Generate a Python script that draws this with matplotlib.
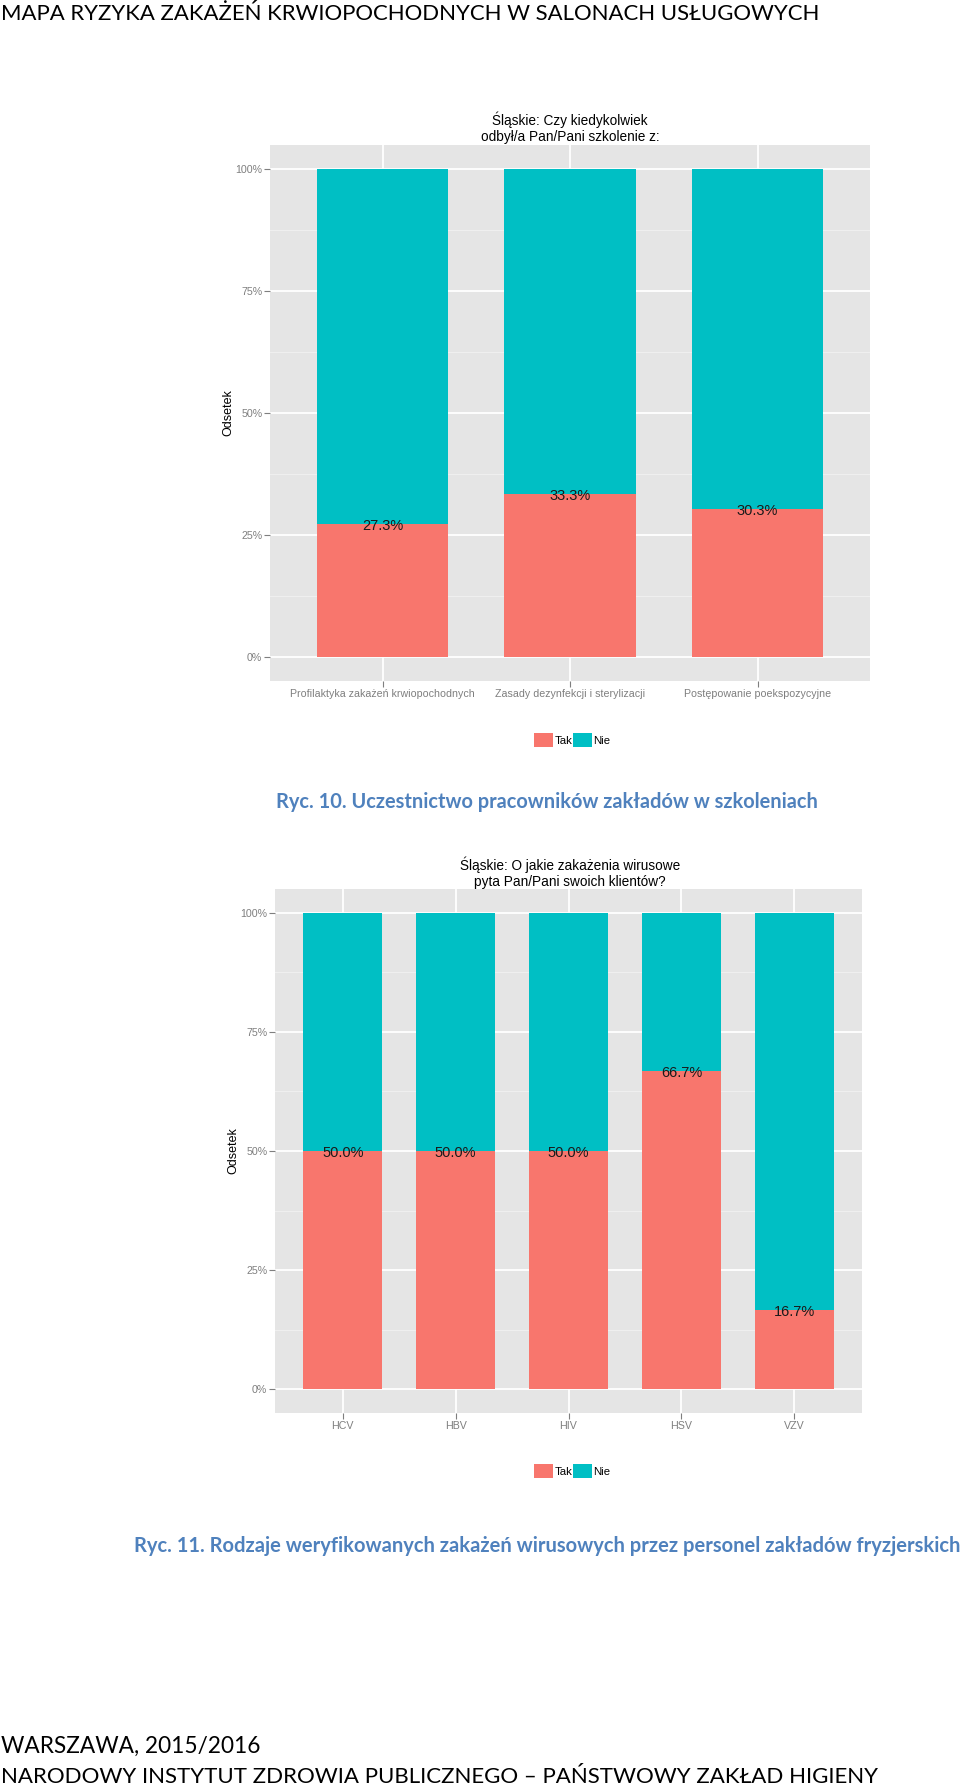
import numpy as np
import matplotlib.pyplot as plt
from matplotlib.patches import Patch

# canvas in pixels
W, H = 960, 1789

header = 'MAPA RYZYKA ZAKAŻEŃ KRWIOPOCHODNYCH W SALONACH USŁUGOWYCH'
caption1 = 'Ryc. 10. Uczestnictwo pracowników zakładów w szkoleniach'
caption2 = 'Ryc. 11. Rodzaje weryfikowanych zakażeń wirusowych przez personel zakładów fryzjerskich'
footer1 = 'WARSZAWA, 2015/2016'
footer2 = 'NARODOWY INSTYTUT ZDROWIA PUBLICZNEGO – PAŃSTWOWY ZAKŁAD HIGIENY'

title1 = 'Śląskie: Czy kiedykolwiek\nodbył/a Pan/Pani szkolenie z:'
train_cats = ['Profilaktyka zakażeń krwiopochodnych',
              'Zasady dezynfekcji i sterylizacji',
              'Postępowanie poekspozycyjne']
train_tak = [27.3, 33.3, 30.3]

title2 = 'Śląskie: O jakie zakażenia wirusowe\npyta Pan/Pani swoich klientów?'
virus_cats = ['HCV', 'HBV', 'HIV', 'HSV', 'VZV']
virus_tak = [50.0, 50.0, 50.0, 66.7, 16.7]

y_ticks = [0, 0.25, 0.5, 0.75, 1.0]
y_ticklabels = ['0%', '25%', '50%', '75%', '100%']
legend_labels = ['Tak', 'Nie']

RED = '#F8766D'
TEAL = '#00BFC4'
PANEL = '#E5E5E5'
GREY = '#7F7F7F'
BLUE = '#4F81BD'
GG_FONT = 'Liberation Sans'
DOC_FONT = 'Lato'

fig = plt.figure(figsize=(W / 100, H / 100), dpi=100)


def px_axes(left, top, right, bottom):
    return fig.add_axes([left / W, 1 - bottom / H,
                         (right - left) / W, (bottom - top) / H])


def fig_text(x, y, s, **kw):
    return fig.text(x / W, 1 - y / H, s, **kw)


def fit(t, width):
    # scale font so the text spans the given pixel width
    r = fig.canvas.get_renderer()
    w = t.get_window_extent(r).width
    t.set_fontsize(t.get_fontsize() * width / w)


def stacked(ax, cats, tak, title, title_y, legend_y):
    x = np.arange(1, len(cats) + 1)
    share = np.array(tak) / 100
    ax.set_facecolor(PANEL)
    ax.bar(x, share, width=0.7, color=RED, zorder=2)
    ax.bar(x, 1 - share, bottom=share, width=0.7, color=TEAL, zorder=2)
    for xi, v, s in zip(x, tak, share):
        ax.text(xi, s - 0.004, f'{v:.1f}%', ha='center', va='center',
                fontsize=10.5, family=GG_FONT, color='#1a1a1a', zorder=3)
    ax.set_xlim(0.4, len(cats) + 0.6)
    ax.set_ylim(-0.05, 1.05)
    ax.set_xticks(x)
    ax.set_xticklabels(cats, family=GG_FONT)
    ax.set_yticks(y_ticks)
    ax.set_yticklabels(y_ticklabels, family=GG_FONT)
    ax.set_yticks([0.125, 0.375, 0.625, 0.875], minor=True)
    ax.set_axisbelow(True)
    ax.grid(which='major', color='white', linewidth=1.3)
    ax.grid(which='minor', axis='y', color='#F2F2F2', linewidth=0.6)
    ax.tick_params(which='major', length=4, width=0.8, color=GREY,
                   labelcolor=GREY, labelsize=7.7, pad=1.5)
    ax.tick_params(which='minor', length=0)
    for sp in ax.spines.values():
        sp.set_visible(False)
    ax.set_ylabel('Odsetek', fontsize=9, family=GG_FONT)
    ax.yaxis.set_label_coords(-0.06, 0.5)
    fig_text(570, title_y, title, ha='center', va='center', fontsize=9.8,
             family=GG_FONT, linespacing=1.2)
    handles = [Patch(facecolor=RED), Patch(facecolor=TEAL)]
    fig.legend(handles, legend_labels, loc='center',
               bbox_to_anchor=(572 / W, 1 - legend_y / H), ncol=2,
               frameon=False, handlelength=1.67, handleheight=1.55,
               handletextpad=0.1, columnspacing=0.05,
               prop={'family': GG_FONT, 'size': 8.2})


ax1 = px_axes(270, 145, 870, 681)
stacked(ax1, train_cats, train_tak, title1, 128, 740)

ax2 = px_axes(275, 889, 862, 1413)
stacked(ax2, virus_cats, virus_tak, title2, 873, 1471)

# document text around the charts
t = fig_text(1, 14, header, ha='left', va='center', fontsize=16,
             family=DOC_FONT)
fit(t, 819)
t = fig_text(547, 802, caption1, ha='center', va='center', fontsize=13,
             family=DOC_FONT, weight='bold', color=BLUE)
fit(t, 543)
t = fig_text(547, 1546, caption2, ha='center', va='center', fontsize=13,
             family=DOC_FONT, weight='bold', color=BLUE)
fit(t, 824)
t = fig_text(1, 1746, footer1, ha='left', va='center', fontsize=16,
             family=DOC_FONT)
fit(t, 260)
t = fig_text(1, 1777, footer2, ha='left', va='center', fontsize=16,
             family=DOC_FONT)
fit(t, 878)

fig.savefig('out.png', dpi=100)
